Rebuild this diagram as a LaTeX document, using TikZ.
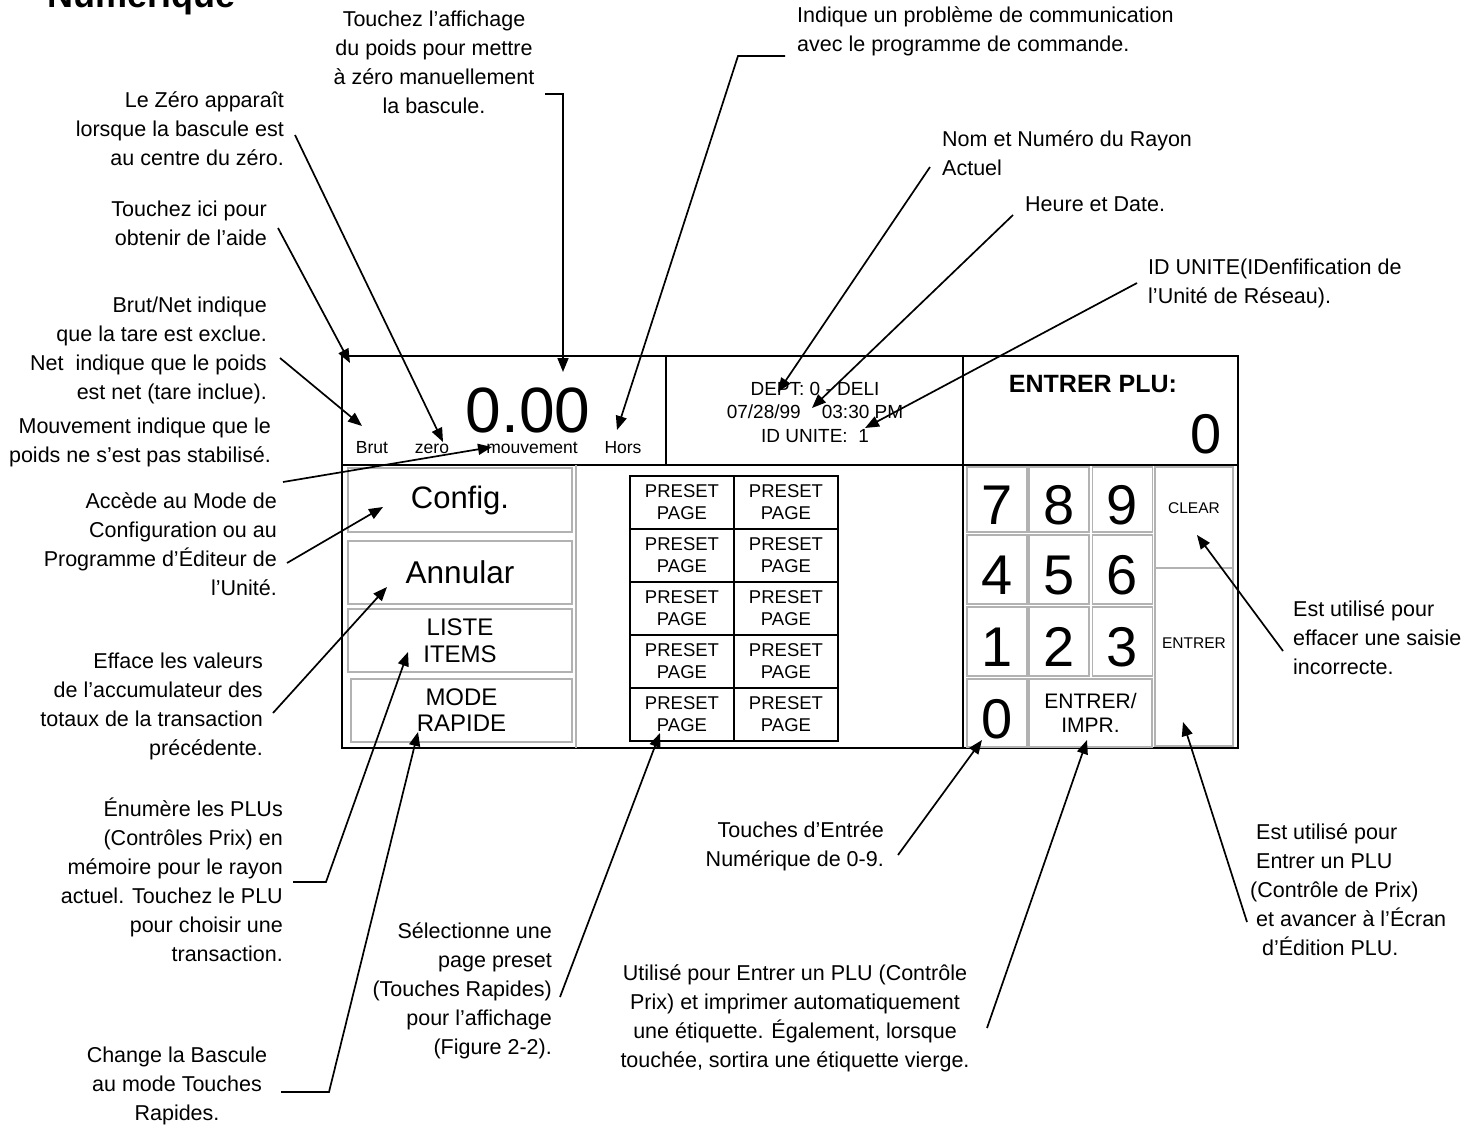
\documentclass[tikz,border=0pt]{standalone}
\usepackage{fontspec}
\setmainfont{Liberation Sans}
\usetikzlibrary{arrows.meta}

\tikzset{
  note/.style={font=\fontsize{21.5}{29}\selectfont, inner sep=0pt},
  pointer/.style={line width=1.7pt, -{Triangle[length=14pt,width=11pt]}},
  flag/.style={font=\fontsize{17.5}{20}\selectfont, inner sep=0pt, anchor=base},
  softkey/.style={draw=gray!60, line width=1.4pt, inner sep=0pt, align=center},
  presetkey/.style={draw, line width=2.4pt, inner sep=0pt, align=center, minimum width=104, minimum height=53, font=\fontsize{18.5}{22}\selectfont},
  numkey/.style={draw=gray!60, line width=1.4pt, inner sep=0pt},
  digit/.style={font=\fontsize{56}{60}\selectfont, inner sep=0pt, anchor=base},
}

\begin{document}
\begin{tikzpicture}[x=1pt,y=-1pt]
\useasboundingbox (0,0) rectangle (1475,1126);

\node[anchor=base west, inner sep=0pt, font=\fontsize{36}{40}\selectfont\bfseries] (title) at (47,8) {Numérique};

% screen
\draw[line width=2.5pt] (342,356) rectangle (1238,748);
\draw[line width=2pt] (342,465) -- (1238,465);
\draw[line width=2pt] (666,356) -- (666,465);
\draw[line width=2pt] (963,356) -- (963,748);
\draw[gray!60, line width=1.4pt] (576,465) -- (576,748);

% weight display
\node[anchor=base, inner sep=0pt, font=\fontsize{64}{70}\selectfont] (weight) at (528,432) {0.00};
\node[flag] (brut) at (372,453) {Brut};
\node[flag] (zero) at (432,453) {zero};
\node[flag] (mouv) at (532,453) {mouvement};
\node[flag] (hors) at (623,453) {Hors};

% department / date (base = last line)
\node[anchor=base, inner sep=0pt, align=center, font=\fontsize{19}{23.5}\selectfont] (dept) at (815,442)
  {DEPT:\ 0 - DELI\\07/28/99\ \ \ \ 03:30 PM\\ID UNITE:\ \ 1};

% PLU entry
\node[anchor=base, inner sep=0pt, font=\fontsize{25}{28}\selectfont\bfseries] (pluhead) at (1093,392) {ENTRER PLU:};
\node[anchor=base east, inner sep=0pt, font=\fontsize{56}{60}\selectfont] (pluval) at (1222,453) {0};

% soft keys
\node[softkey, minimum width=224, minimum height=64, font=\fontsize{31}{34}\selectfont] (config) at (460,500) {Config.};
\node[softkey, minimum width=224, minimum height=63, font=\fontsize{31.5}{34}\selectfont] (annular) at (460,572.5) {Annular};
\node[softkey, minimum width=224, minimum height=63, font=\fontsize{24}{27}\selectfont] (liste) at (460,640.5) {LISTE\\ITEMS};
\node[softkey, minimum width=221, minimum height=63, font=\fontsize{24}{26}\selectfont] (mode) at (461.5,710.5) {MODE\\RAPIDE};

% preset pages
\foreach \r in {0,...,4}
  \foreach \c in {0,1}
    \node[presetkey] (p\r\c) at ({682+104*\c},{502.5+53*\r}) {PRESET\\PAGE};

% keypad
\foreach \d/\x/\y/\h in {7/997/499.5/65, 8/1059/499.5/65, 9/1122.5/499.5/65,
                         4/997/569.5/69, 5/1059/569.5/69, 6/1122.5/569.5/69,
                         1/997/641.5/69, 2/1059/641.5/69, 3/1122.5/641.5/69,
                         0/997/713/68}
{
  \node[numkey, minimum width=60, minimum height=\h] (k\d) at (\x,\y) {};
  \node[digit] (d\d) at ([yshift=-25pt]k\d.center) {\d};
}
\node[softkey, minimum width=123, minimum height=68, font=\fontsize{21}{24}\selectfont] (print) at (1090.5,713) {ENTRER/\\IMPR.};
\node[numkey, minimum width=78, minimum height=101] (clear) at (1194,517.5) {};
\node[anchor=base, inner sep=0pt, font=\fontsize{15.5}{18}\selectfont] (cleartxt) at ([yshift=4.5pt]clear.center) {CLEAR};
\node[numkey, minimum width=78, minimum height=178] (enter) at (1194,657) {};
\node[anchor=base, inner sep=0pt, font=\fontsize{15.5}{18}\selectfont] (entertxt) at ([yshift=9pt]enter.center) {ENTRER};

% notes (placed by the baseline of their last line)
\node[note, align=center, anchor=base] (affichage) at (434,114)
  {Touchez l’affichage\\du poids pour mettre\\à zéro manuellement\\la bascule.};
\node[note, align=left, anchor=base west] (comm) at (797,52)
  {Indique un problème de communication\\avec le programme de commande.};
\node[note, align=left, anchor=base west] (rayon) at (942,176) {Nom et Numéro du Rayon\\Actuel};
\node[note, anchor=base west] (heure) at (1025,212) {Heure et Date.};
\node[note, align=left, anchor=base west] (unite) at (1148,303)
  {ID UNITE(IDenfification de\\l’Unité de Réseau).};

\node[note, align=right, anchor=base east] (lezero) at (284,166)
  {Le Zéro apparaît\\lorsque la bascule est\\au centre du zéro.};
\node[note, align=right, anchor=base east] (aide) at (267,246) {Touchez ici pour\\obtenir de l’aide};
\node[note, align=right, anchor=base east] (brutnet) at (267,399)
  {Brut/Net indique\\que la tare est exclue.\\Net\ \ indique que le poids\\est net (tare inclue).};
\node[note, align=right, anchor=base east] (mouvement) at (271,462)
  {Mouvement indique que le\\poids ne s’est pas stabilisé.};
\node[note, align=right, anchor=base east] (accede) at (277,595)
  {Accède au Mode de\\Configuration ou au\\Programme d’Éditeur de\\l’Unité.};
\node[note, align=right, anchor=base east] (efface) at (263,755)
  {Efface les valeurs\\de l’accumulateur des\\totaux de la transaction\\précédente.};
\node[note, align=right, anchor=base east] (enumere) at (283,961)
  {Énumère les PLUs\\(Contrôles Prix) en\\mémoire pour le rayon\\actuel. Touchez le PLU\\pour choisir une\\transaction.};
\node[note, align=center, anchor=base] (change) at (177,1120)
  {Change la Bascule\\au mode Touches\\Rapides.};
\node[note, align=right, anchor=base east] (selection) at (552,1054)
  {Sélectionne une\\page preset\\(Touches Rapides)\\pour l’affichage\\(Figure 2-2).};
\node[note, align=right, anchor=base east] (numerique) at (884,866)
  {Touches d’Entrée\\Numérique de 0-9.};
\node[note, align=center, anchor=base] (utilise) at (795,1067)
  {Utilisé pour Entrer un PLU (Contrôle\\Prix) et imprimer automatiquement\\une étiquette. Également, lorsque\\touchée, sortira une étiquette vierge.};
\node[note, align=left, anchor=base west] (effacer) at (1293,674)
  {Est utilisé pour\\effacer une saisie\\incorrecte.};
\node[note, align=left, anchor=base west] (avancer) at (1250,955)
  {\ Est utilisé pour\\\ Entrer un PLU\\(Contrôle de Prix)\\\ et avancer à l’Écran\\\ \ d’Édition PLU.};

% leader ends
\coordinate (lzS) at (295,135);   \coordinate (lzT) at (443,442);
\coordinate (aiS) at (278,228);   \coordinate (aiT) at (350,363);
\coordinate (bnS) at (280,358);   \coordinate (bnT) at (362,426);
\coordinate (mvS) at (283,482);   \coordinate (mvT) at (492,447);
\coordinate (acS) at (287,563);   \coordinate (acT) at (383,507);
\coordinate (efS) at (273,713);   \coordinate (efT) at (387,587);
\coordinate (enS) at (293,882);   \coordinate (enB) at (326,882);   \coordinate (enT) at (408,652);
\coordinate (chS) at (281,1092);  \coordinate (chB) at (329,1092);  \coordinate (chT) at (418,732);
\coordinate (afS) at (545,94);    \coordinate (afB) at (563,94);    \coordinate (afT) at (563,372);
\coordinate (coS) at (785,56);    \coordinate (coB) at (738,56);    \coordinate (coT) at (617,430);
\coordinate (raS) at (930,167);   \coordinate (raT) at (778,392);
\coordinate (heS) at (1013,215);  \coordinate (heT) at (812,408);
\coordinate (unS) at (1137,283);  \coordinate (unT) at (865,428);
\coordinate (seS) at (560,997);   \coordinate (seT) at (660,733);
\coordinate (nuS) at (898,855);   \coordinate (nuT) at (982,740);
\coordinate (utS) at (987,1028);  \coordinate (utT) at (1087,740);
\coordinate (clS) at (1283,651);  \coordinate (clT) at (1197,535);
\coordinate (etS) at (1247,922);  \coordinate (etT) at (1183,722);

% leaders
\draw[pointer] (lzS) -- (lzT);
\draw[pointer] (aiS) -- (aiT);
\draw[pointer] (bnS) -- (bnT);
\draw[pointer] (mvS) -- (mvT);
\draw[pointer] (acS) -- (acT);
\draw[pointer] (efS) -- (efT);
\draw[pointer] (enS) -- (enB) -- (enT);
\draw[pointer] (chS) -- (chB) -- (chT);
\draw[pointer] (afS) -- (afB) -- (afT);
\draw[pointer] (coS) -- (coB) -- (coT);
\draw[pointer] (raS) -- (raT);
\draw[pointer] (heS) -- (heT);
\draw[pointer] (unS) -- (unT);
\draw[pointer] (seS) -- (seT);
\draw[pointer] (nuS) -- (nuT);
\draw[pointer] (utS) -- (utT);
\draw[pointer] (clS) -- (clT);
\draw[pointer] (etS) -- (etT);
\end{tikzpicture}
\end{document}
